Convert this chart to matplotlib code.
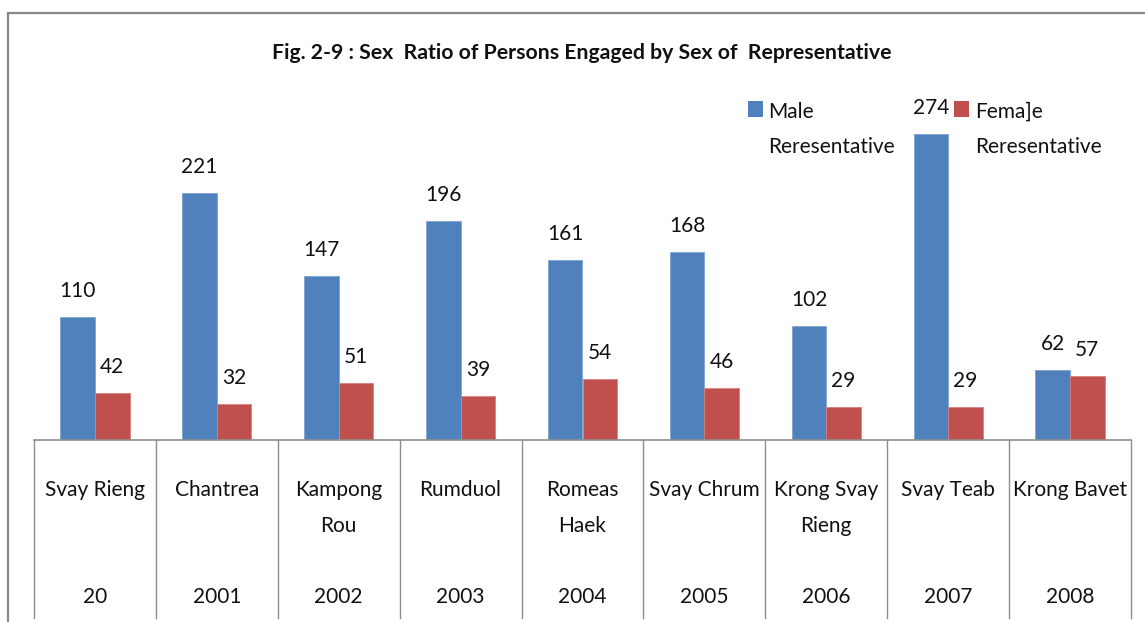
import numpy as np
import matplotlib
matplotlib.use("Agg")
import matplotlib.pyplot as plt
from matplotlib.patches import Rectangle
from matplotlib.transforms import ScaledTranslation

# ---- data ----
places = ["Svay Rieng", "Chantrea", "Kampong\nRou", "Rumduol", "Romeas\nHaek",
          "Svay Chrum", "Krong Svay\nRieng", "Svay Teab", "Krong Bavet"]
years = ["20", "2001", "2002", "2003", "2004", "2005", "2006", "2007", "2008"]
male = [110, 221, 147, 196, 161, 168, 102, 274, 62]
female = [42, 32, 51, 39, 54, 46, 29, 29, 57]
series_names = ["Male\nReresentative", "Fema]e\nReresentative"]
title = "Fig. 2-9 : Sex  Ratio of Persons Engaged by Sex of  Representative"

BLUE = "#4F81BD"
RED = "#C0504D"
GRAY = "#8E8E8E"
TXT = "#111111"
FONT = "Lato"

W, H = 1145, 622
DPI = 100
fig = plt.figure(figsize=(W / DPI, H / DPI), dpi=DPI)
plt.rcParams["font.family"] = [FONT, "DejaVu Sans"]

def fx(px):
    return px / W

def fy(py):
    return (H - py) / H

# axes in pixel geometry
ax_left, ax_right, ax_bottom, ax_top = 34, 1131, 439.5, 105
ax = fig.add_axes([fx(ax_left), fy(ax_bottom), fx(ax_right - ax_left),
                   (ax_bottom - ax_top) / H])
ax.set_facecolor("none")

n = len(places)
x = np.arange(n)
bw = 0.284
b1 = ax.bar(x - bw / 2, male, width=bw, color=BLUE, edgecolor="#7FA3D0", linewidth=0.6, zorder=2)
b2 = ax.bar(x + bw / 2, female, width=bw, color=RED, edgecolor="#D9807E", linewidth=0.6, zorder=2)

ax.set_xlim(-0.5, n - 0.5)
ax.set_ylim(0, 300)
for s in ["top", "left", "right"]:
    ax.spines[s].set_visible(False)
ax.spines["bottom"].set_color(GRAY)
ax.spines["bottom"].set_linewidth(1.2)
ax.set_xticks([])
ax.set_yticks([])

# data labels
for bars, vals in ((b1, male), (b2, female)):
    for rect, v in zip(bars, vals):
        ax.annotate(str(v), (rect.get_x() + rect.get_width() / 2, rect.get_height()),
                    xytext=(0, 14.4), textcoords="offset points",
                    ha="center", va="baseline", fontsize=15, color=TXT,
                    zorder=3)

# category separators
xt = ax.get_xaxis_transform()
sep_len = (618 - ax_bottom) / (ax_bottom - ax_top)
for b in np.arange(n + 1) - 0.5:
    ax.plot([b, b], [0, -sep_len], transform=xt, color=GRAY, lw=1.0, clip_on=False)

# category labels (two levels)
def off(dy_px):
    return xt + ScaledTranslation(0, -dy_px / DPI, fig.dpi_scale_trans)

for i, (p, yr) in enumerate(zip(places, years)):
    for k, line in enumerate(p.split("\n")):
        ax.text(i, 0, line, transform=off(56.5 + 36 * k), ha="center",
                va="baseline", fontsize=15, color=TXT)
    ax.text(i, 0, yr, transform=off(163.5), ha="center", va="baseline",
            fontsize=15, color=TXT)

# title
fig.text(fx(582), fy(59), title, ha="center", va="baseline", fontsize=15.3,
         fontweight="bold", color=TXT)

# legend (manual, square aligned with first line)
for (sx, tx), name, col in zip(((748, 768), (954, 975)), series_names, (BLUE, RED)):
    fig.patches.append(Rectangle((fx(sx), fy(117.3)), fx(15), 16 / H,
                                 transform=fig.transFigure, facecolor=col,
                                 edgecolor="none"))
    for k, line in enumerate(name.split("\n")):
        fig.text(fx(tx), fy(117.5 + 35 * k), line, ha="left", va="baseline",
                 fontsize=15, color=TXT)

# figure border (left and top visible)
fig.patches.append(Rectangle((fx(8), fy(640)), fx(1200), (640 - 12.5) / H,
                             transform=fig.transFigure, facecolor="none",
                             edgecolor="#878787", linewidth=1.6))

fig.savefig("out.png", dpi=DPI)
